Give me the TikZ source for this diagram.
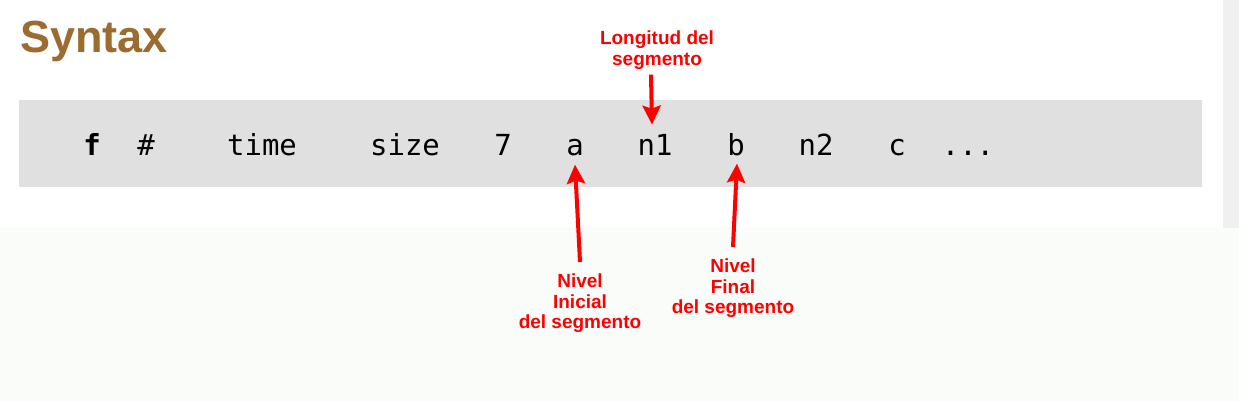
\documentclass[tikz,border=0pt]{standalone}
\usepackage{fontspec}
\setmainfont{Liberation Sans}
\newfontfamily\codefont{DejaVu Sans Mono}
\usetikzlibrary{arrows.meta}
\definecolor{titlebrown}{HTML}{9C6B30}
\definecolor{boxgray}{HTML}{E0E0E0}
\definecolor{lowbg}{HTML}{FAFCF9}
\definecolor{scrollgray}{HTML}{F0F0F0}
\definecolor{annred}{HTML}{FF0000}
\tikzset{
  tok/.style={anchor=base, inner sep=0pt, font=\codefont\fontsize{29}{34}\selectfont, text=black},
  ann/.style={inner sep=0pt, align=center, font=\bfseries\fontsize{19}{20.5}\selectfont, text=annred},
  redarr/.style={draw=annred, line width=4pt, -{Stealth[length=19pt,width=18pt,inset=3pt]}},
}
\begin{document}
\begin{tikzpicture}[x=1pt,y=-1pt]
\useasboundingbox (0,0) rectangle (1239,401);
\fill[white] (0,0) rectangle (1239,401);
\fill[lowbg] (0,227) rectangle (1239,401);
\fill[scrollgray] (1223,0) rectangle (1239,228);
\node[anchor=base west, inner sep=0pt, font=\bfseries\fontsize{45}{50}\selectfont, text=titlebrown] (title) at (20,53) {Syntax};
\fill[boxgray] (19,100) rectangle (1202,187);
\node[tok, font=\codefont\bfseries\fontsize{29}{34}\selectfont] (tf) at (92,155) {f};
\node[tok] (thash) at (146,155) {\#};
\node[tok] (ttime) at (262,155) {time};
\node[tok] (tsize) at (405,155) {size};
\node[tok] (tseven) at (503,155) {7};
\node[tok] (ta) at (575,155) {a};
\node[tok] (tn1) at (655,155) {n1};
\node[tok] (tb) at (736,155) {b};
\node[tok] (tn2) at (816,155) {n2};
\node[tok] (tc) at (897,155) {c};
\node[tok] (tdots) at (968,155) {...};
\node[ann, anchor=north] (lab1) at (657,31) {Longitud del\\segmento};
\node[ann, anchor=north] (lab2) at (580,274) {Nivel\\Inicial\\del segmento};
\node[ann, anchor=north] (lab3) at (733,259) {Nivel\\Final\\del segmento};
\draw[redarr] ([xshift=-6pt,yshift=-5pt]lab1.south) -- ([xshift=-3pt,yshift=9pt]tn1.north);
\draw[redarr] ([yshift=12pt]lab2.north) -- ([yshift=-9pt]ta.south);
\draw[redarr] ([yshift=12pt]lab3.north) -- ([xshift=1pt,yshift=-8pt]tb.south);
\end{tikzpicture}
\end{document}
